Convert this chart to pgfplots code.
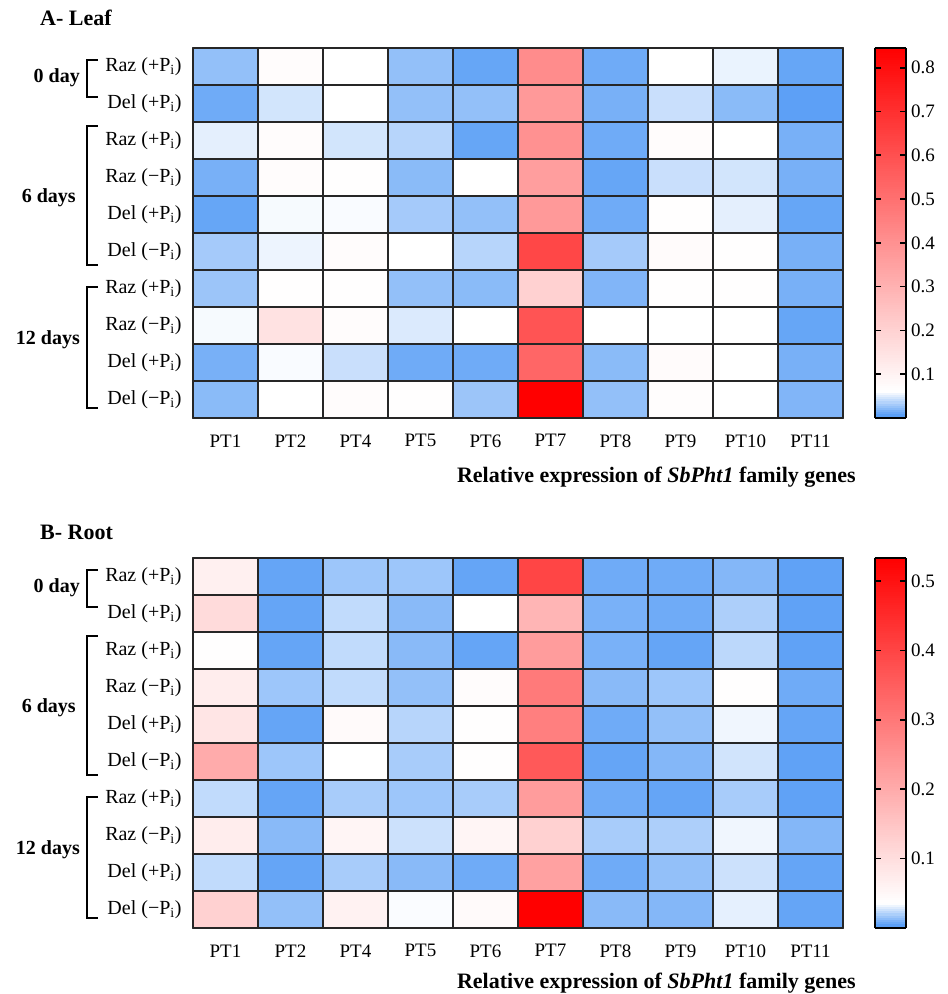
\documentclass[border=0pt]{standalone}
\usepackage{pgfplots}
\pgfplotsset{compat=1.18}
\usepackage{fontspec}
\setmainfont{Liberation Serif}
\newcommand{\fs}[1]{\fontsize{#1}{#1}\selectfont}

\pgfplotsset{
  colormap={leafmap}{rgb255(0cm)=(75,150,245) rgb255(0.6cm)=(255,255,255) rgb255(8.45cm)=(255,0,0)},
  colormap={rootmap}{rgb255(0cm)=(75,150,245) rgb255(0.35cm)=(255,255,255) rgb255(5.33cm)=(255,0,0)},
  /pgf/number format/assume math mode=true,
  heat/.style={
    scale only axis, width=650pt, height=370pt,
    xmin=-0.5, xmax=9.5, ymin=-0.5, ymax=9.5, y dir=reverse,
    axis on top, clip=false,
    xtick={0,...,9},
    xticklabels={PT1,PT2,PT4,PT5,PT6,PT7,PT8,PT9,PT10,PT11},
    ytick=\empty,
    major tick length=0pt,
    extra x ticks={-0.5,0.5,...,9.5}, extra x tick labels={},
    extra y ticks={-0.5,0.5,...,9.5}, extra y tick labels={},
    extra x tick style={grid=major},
    extra y tick style={grid=major},
    major grid style={black!85, line width=1.1pt},
    axis line style={black!75, line width=1.1pt},
    xticklabel style={font=\fs{19}, yshift=-13pt},
    xlabel={Relative expression of \textit{SbPht1} family genes},
    xlabel style={font=\bfseries\fs{22}, at={(axis description cs:1.025,-0.122)}, anchor=north east},
    colorbar sampled={surf, mark=none, shader=flat corner},
    colorbar style={
      width=31pt, at={(parent axis.north east)}, anchor=north west, xshift=23pt,
      samples=170,
      axis on top,
      ytick pos=both, yticklabel pos=right,
      ytick align=inside,
      major tick length=6pt,
      major tick style={black, line width=1.6pt},
      axis line style={black, line width=2pt},
      yticklabel style={font=\fs{19}, xshift=2pt},
    },
  },
}

\begin{document}
\begin{tikzpicture}
\useasboundingbox (-193pt,48pt) rectangle (755pt,-946pt);

% ---------------- A - Leaf ----------------
\begin{axis}[heat, at={(0pt,0pt)}, anchor=north west,
  colormap name=leafmap, point meta min=0, point meta max=0.845,
  colorbar style={ytick={0.1,0.2,0.3,0.4,0.5,0.6,0.7,0.8}}]
\addplot[matrix plot*, mesh/cols=10, point meta=explicit] table[meta=v] {
x y v
0 0 0.024
1 0 0.068
2 0 0.060
3 0 0.024
4 0 0.009
5 0 0.413
6 0 0.012
7 0 0.060
8 0 0.053
9 0 0.009
0 1 0.012
1 1 0.045
2 1 0.060
3 1 0.024
4 1 0.024
5 1 0.374
6 1 0.015
7 1 0.042
8 1 0.021
9 1 0.006
0 2 0.051
1 2 0.068
2 2 0.045
3 2 0.036
4 2 0.009
5 2 0.398
6 2 0.012
7 2 0.068
8 2 0.061
9 2 0.015
0 3 0.015
1 3 0.068
2 3 0.064
3 3 0.021
4 3 0.060
5 3 0.358
6 3 0.009
7 3 0.042
8 3 0.045
9 3 0.015
0 4 0.009
1 4 0.057
2 4 0.058
3 4 0.030
4 4 0.024
5 4 0.374
6 4 0.012
7 4 0.062
8 4 0.051
9 4 0.009
0 5 0.030
1 5 0.054
2 5 0.068
3 5 0.060
4 5 0.036
5 5 0.625
6 5 0.030
7 5 0.072
8 5 0.064
9 5 0.015
0 6 0.027
1 6 0.064
2 6 0.062
3 6 0.024
4 6 0.021
5 6 0.201
6 6 0.018
7 6 0.062
8 6 0.064
9 6 0.015
0 7 0.057
1 7 0.150
2 7 0.068
3 7 0.048
4 7 0.060
5 7 0.586
6 7 0.060
7 7 0.060
8 7 0.060
9 7 0.009
0 8 0.015
1 8 0.058
2 8 0.042
3 8 0.012
4 8 0.012
5 8 0.531
6 8 0.021
7 8 0.072
8 8 0.061
9 8 0.015
0 9 0.021
1 9 0.060
2 9 0.068
3 9 0.062
4 9 0.027
5 9 0.845
6 9 0.024
7 9 0.065
8 9 0.060
9 9 0.018
};
\node[anchor=west, font=\bfseries\fs{22}] at (axis description cs:-0.2405,1.081) {A- Leaf};
\node[anchor=east, font=\fs{20}, xshift=-8pt] at (axis cs:-0.5,0) {Raz (+P\textsubscript{i})};
\node[anchor=east, font=\fs{20}, xshift=-8pt] at (axis cs:-0.5,1) {Del (+P\textsubscript{i})};
\node[anchor=east, font=\fs{20}, xshift=-8pt] at (axis cs:-0.5,2) {Raz (+P\textsubscript{i})};
\node[anchor=east, font=\fs{20}, xshift=-8pt] at (axis cs:-0.5,3) {Raz (−P\textsubscript{i})};
\node[anchor=east, font=\fs{20}, xshift=-8pt] at (axis cs:-0.5,4) {Del (+P\textsubscript{i})};
\node[anchor=east, font=\fs{20}, xshift=-8pt] at (axis cs:-0.5,5) {Del (−P\textsubscript{i})};
\node[anchor=east, font=\fs{20}, xshift=-8pt] at (axis cs:-0.5,6) {Raz (+P\textsubscript{i})};
\node[anchor=east, font=\fs{20}, xshift=-8pt] at (axis cs:-0.5,7) {Raz (−P\textsubscript{i})};
\node[anchor=east, font=\fs{20}, xshift=-8pt] at (axis cs:-0.5,8) {Del (+P\textsubscript{i})};
\node[anchor=east, font=\fs{20}, xshift=-8pt] at (axis cs:-0.5,9) {Del (−P\textsubscript{i})};
\draw[line width=2pt] (axis cs:-1.962,-0.176) -| (axis cs:-2.131,0.824) -- (axis cs:-1.962,0.824);
\draw[line width=2pt] (axis cs:-1.962,1.608) -| (axis cs:-2.131,5.365) -- (axis cs:-1.962,5.365);
\draw[line width=2pt] (axis cs:-1.962,5.959) -| (axis cs:-2.131,9.23) -- (axis cs:-1.962,9.23);
\node[anchor=east, font=\bfseries\fs{20}] at (axis cs:-2.187,0.31) {0 day};
\node[anchor=east, font=\bfseries\fs{20}] at (axis cs:-2.25,3.554) {6 days};
\node[anchor=east, font=\bfseries\fs{20}] at (axis cs:-2.187,7.39) {12 days};
\end{axis}

% ---------------- B - Root ----------------
\begin{axis}[heat, at={(0pt,-510pt)}, anchor=north west,
  colormap name=rootmap, point meta min=0, point meta max=0.533,
  xlabel style={at={(axis description cs:1.025,-0.113)}},
  colorbar style={ytick={0.1,0.2,0.3,0.4,0.5}}]
\addplot[matrix plot*, mesh/cols=10, point meta=explicit] table[meta=v] {
x y v
0 0 0.065
1 0 0.005
2 0 0.016
3 0 0.016
4 0 0.005
5 0 0.399
6 0 0.007
7 0 0.007
8 0 0.011
9 0 0.004
0 1 0.105
1 1 0.005
2 1 0.023
3 1 0.012
4 1 0.035
5 1 0.179
6 1 0.009
7 1 0.007
8 1 0.019
9 1 0.004
0 2 0.037
1 2 0.005
2 2 0.023
3 2 0.012
4 2 0.005
5 2 0.229
6 2 0.009
7 2 0.005
8 2 0.022
9 2 0.004
0 3 0.070
1 3 0.016
2 3 0.023
3 3 0.014
4 3 0.040
5 3 0.294
6 3 0.012
7 3 0.016
8 3 0.037
9 3 0.007
0 4 0.085
1 4 0.005
2 4 0.045
3 4 0.021
4 4 0.037
5 4 0.284
6 4 0.007
7 4 0.014
8 4 0.032
9 4 0.005
0 5 0.199
1 5 0.016
2 5 0.035
3 5 0.018
4 5 0.036
5 5 0.359
6 5 0.005
7 5 0.011
8 5 0.026
9 5 0.004
0 6 0.023
1 6 0.005
2 6 0.018
3 6 0.016
4 6 0.018
5 6 0.229
6 6 0.007
7 6 0.005
8 6 0.018
9 6 0.004
0 7 0.070
1 7 0.012
2 7 0.055
3 7 0.025
4 7 0.055
5 7 0.125
6 7 0.018
7 7 0.019
8 7 0.032
9 7 0.011
0 8 0.023
1 8 0.005
2 8 0.018
3 8 0.012
4 8 0.007
5 8 0.219
6 8 0.007
7 8 0.014
8 8 0.025
9 8 0.005
0 9 0.125
1 9 0.014
2 9 0.060
3 9 0.034
4 9 0.045
5 9 0.533
6 9 0.012
7 9 0.011
8 9 0.030
9 9 0.005
};
\node[anchor=west, font=\bfseries\fs{22}] at (axis description cs:-0.2405,1.068) {B- Root};
\node[anchor=east, font=\fs{20}, xshift=-8pt] at (axis cs:-0.5,0) {Raz (+P\textsubscript{i})};
\node[anchor=east, font=\fs{20}, xshift=-8pt] at (axis cs:-0.5,1) {Del (+P\textsubscript{i})};
\node[anchor=east, font=\fs{20}, xshift=-8pt] at (axis cs:-0.5,2) {Raz (+P\textsubscript{i})};
\node[anchor=east, font=\fs{20}, xshift=-8pt] at (axis cs:-0.5,3) {Raz (−P\textsubscript{i})};
\node[anchor=east, font=\fs{20}, xshift=-8pt] at (axis cs:-0.5,4) {Del (+P\textsubscript{i})};
\node[anchor=east, font=\fs{20}, xshift=-8pt] at (axis cs:-0.5,5) {Del (−P\textsubscript{i})};
\node[anchor=east, font=\fs{20}, xshift=-8pt] at (axis cs:-0.5,6) {Raz (+P\textsubscript{i})};
\node[anchor=east, font=\fs{20}, xshift=-8pt] at (axis cs:-0.5,7) {Raz (−P\textsubscript{i})};
\node[anchor=east, font=\fs{20}, xshift=-8pt] at (axis cs:-0.5,8) {Del (+P\textsubscript{i})};
\node[anchor=east, font=\fs{20}, xshift=-8pt] at (axis cs:-0.5,9) {Del (−P\textsubscript{i})};
\draw[line width=2pt] (axis cs:-1.962,-0.176) -| (axis cs:-2.131,0.824) -- (axis cs:-1.962,0.824);
\draw[line width=2pt] (axis cs:-1.962,1.608) -| (axis cs:-2.131,5.365) -- (axis cs:-1.962,5.365);
\draw[line width=2pt] (axis cs:-1.962,5.959) -| (axis cs:-2.131,9.23) -- (axis cs:-1.962,9.23);
\node[anchor=east, font=\bfseries\fs{20}] at (axis cs:-2.187,0.31) {0 day};
\node[anchor=east, font=\bfseries\fs{20}] at (axis cs:-2.25,3.554) {6 days};
\node[anchor=east, font=\bfseries\fs{20}] at (axis cs:-2.187,7.39) {12 days};
\end{axis}
\end{tikzpicture}
\end{document}
